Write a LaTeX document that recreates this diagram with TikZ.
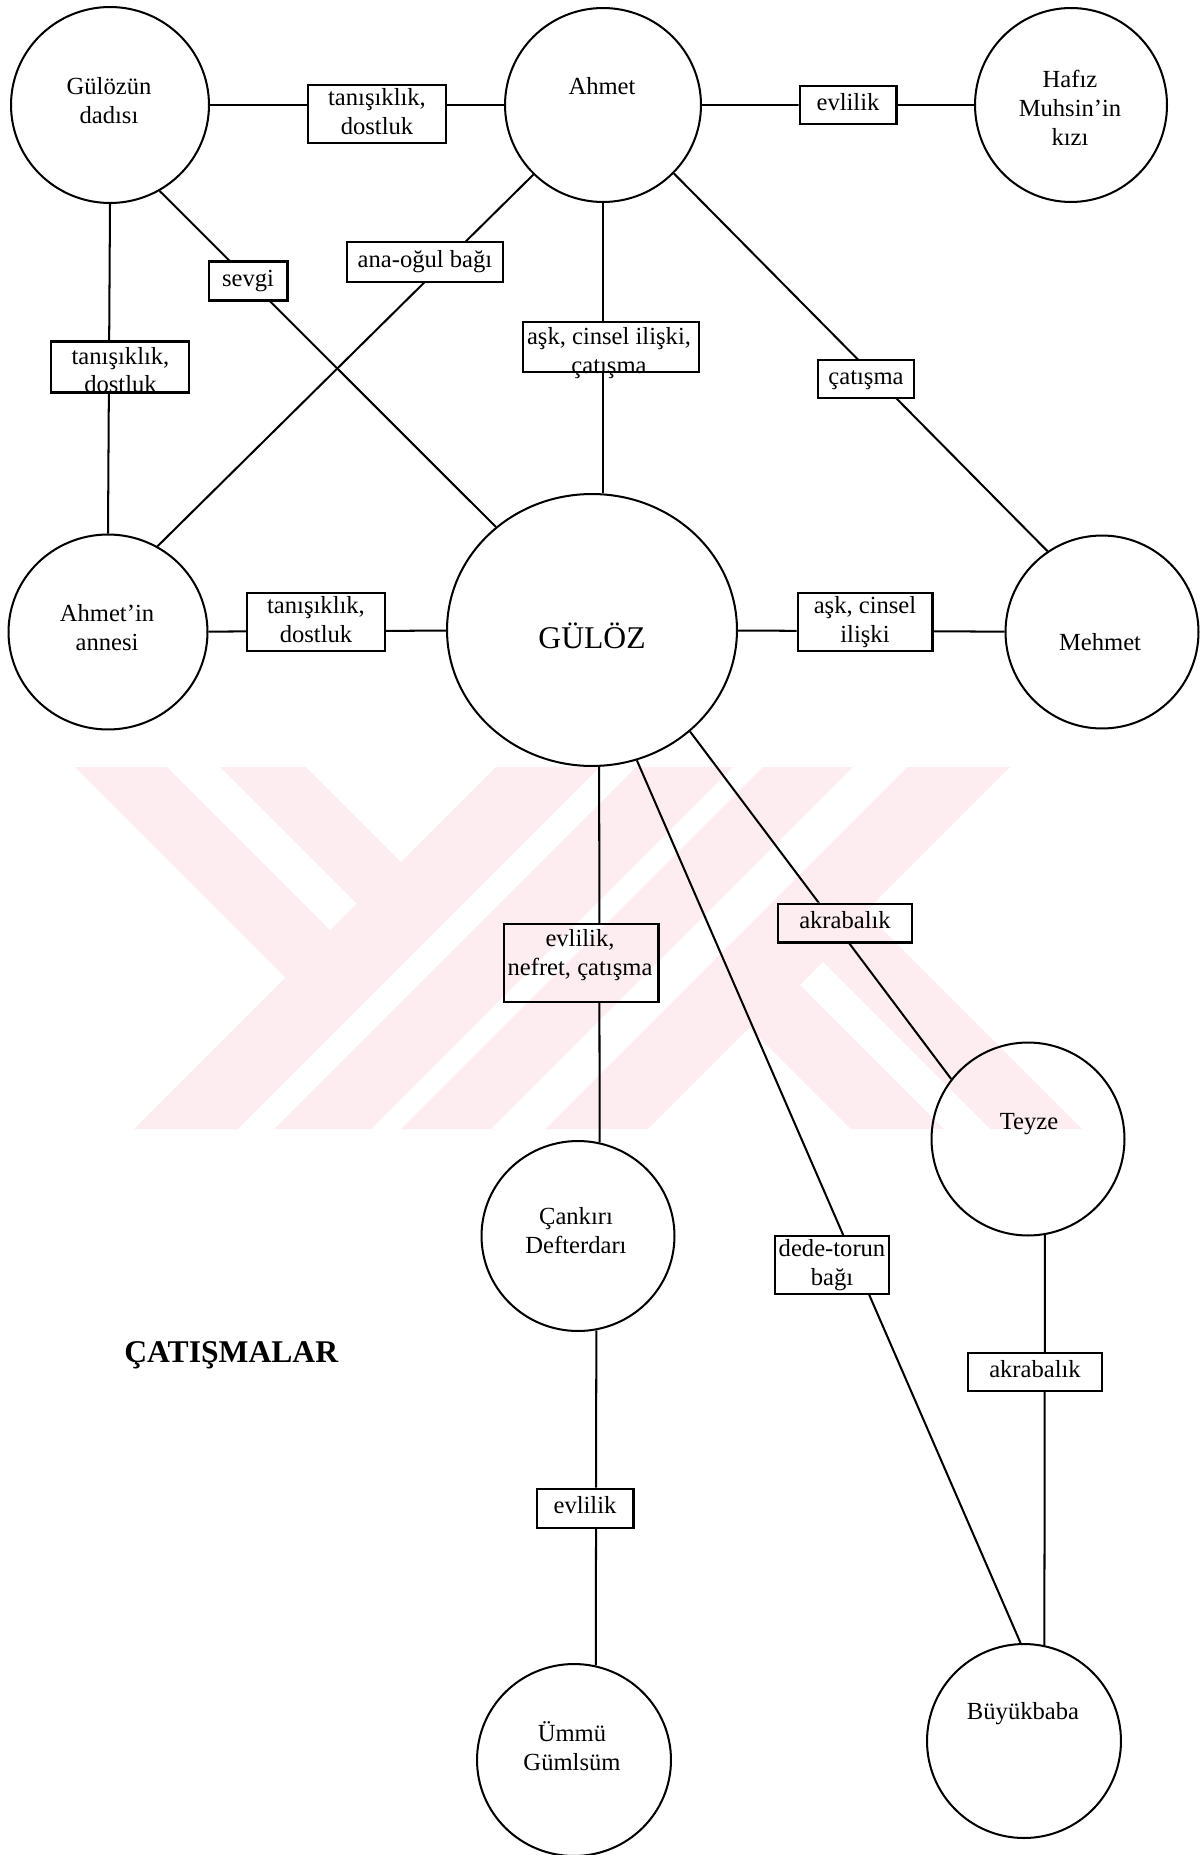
\documentclass[tikz,border=0pt]{standalone}
\usepackage{fontspec}
\setmainfont{Liberation Serif}
\usetikzlibrary{shapes.geometric}
\definecolor{wmpink}{RGB}{253,236,240}
\newcommand\relfont{\fontsize{14}{16.5}\selectfont}
\begin{document}
\begin{tikzpicture}[x=0.02cm, y=-0.02cm,
  persona/.style={draw, ellipse, line width=1.15pt, inner sep=0pt},
  relbox/.style={draw, rectangle, line width=1.15pt, inner sep=0pt, align=center, font=\relfont},
  plabel/.style={align=center, font=\relfont, inner sep=0pt},
  conn/.style={line width=1.15pt}]
\useasboundingbox (0,0) rectangle (1203,1855);
\fill[white] (0,0) rectangle (1203,1855);

% background emblem: a striped "Y" and "X"
\fill[wmpink] (75,767) -- (306,767) -- (401,862) -- (285.5,977.5) -- cycle;
\fill[wmpink] (496,767) -- (733,767) -- (371,1129) -- (134,1129) -- cycle;
\fill[wmpink] (763,767) -- (1010,767) -- (648,1129) -- (401,1129) -- cycle;
\fill[wmpink] (865,912) -- (1082,1129) -- (851,1129) -- (749.5,1027.5) -- cycle;
\fill[white] (167,767) -- (220,767) -- (356.5,903.5) -- (330,930) -- cycle;
\fill[white] (600,767) -- (636,767) -- (274,1129) -- (238,1129) -- cycle;
\fill[white] (853,767) -- (907,767) -- (545,1129) -- (491,1129) -- cycle;
\fill[white] (800,985) -- (823,962) -- (990,1129) -- (944,1129) -- cycle;

% people
\node[persona, minimum width=3.96cm, minimum height=3.92cm] (dadi) at (110,105) {};
\node[persona, minimum width=3.92cm, minimum height=3.88cm] (ahmet) at (603,105) {};
\node[persona, minimum width=3.84cm, minimum height=3.88cm] (hafiz) at (1071,105) {};
\node[persona, minimum width=3.98cm, minimum height=3.90cm] (annesi) at (108,632) {};
\node[persona, minimum width=5.80cm, minimum height=5.44cm] (guloz) at (592,630) {};
\node[persona, minimum width=3.86cm, minimum height=3.86cm] (mehmet) at (1102,632) {};
\node[persona, minimum width=3.86cm, minimum height=3.86cm] (teyze) at (1028,1139) {};
\node[persona, minimum width=3.86cm, minimum height=3.80cm] (cankiri) at (578,1236) {};
\node[persona, minimum width=3.88cm, minimum height=3.84cm] (ummu) at (574,1760) {};
\node[persona, minimum width=3.88cm, minimum height=3.88cm] (buyukbaba) at (1024,1741) {};

% names inside the circles
\node[plabel] (tdadi) at (109,103.2) {\strut Gülözün\\\strut dadısı};
\node[plabel] (tahmet) at (602,89.2) {\strut Ahmet};
\node[plabel] (thafiz) at (1070,110.7) {\strut Hafız\\\strut Muhsin’in\\\strut kızı};
\node[plabel] (tannesi) at (107,630) {\strut Ahmet’in\\\strut annesi};
\node[anchor=base, inner sep=0pt, font=\fontsize{18}{21}\selectfont] (tguloz) at (592,648) {GÜLÖZ};
\node[plabel] (tmehmet) at (1100,644.2) {\strut Mehmet};
\node[plabel] (tteyze) at (1029,1124) {\strut Teyze};
\node[plabel] (tcankiri) at (576,1233) {\strut Çankırı\\\strut Defterdarı};
\node[plabel] (tummu) at (572,1750) {\strut Ümmü\\\strut Gümlsüm};
\node[plabel] (tbuyukbaba) at (1023,1714) {\strut Büyükbaba};

% relation boxes
\node[relbox, minimum width=2.76cm, minimum height=1.16cm] (b1) at (377,114) {\strut tanışıklık,\\\strut dostluk};
\node[relbox, minimum width=1.94cm, minimum height=0.76cm] (b2) at (848,105) {\strut evlilik};
\node[relbox, minimum width=1.58cm, minimum height=0.78cm] (b3) at (248,281) {\strut sevgi};
\node[relbox, minimum width=3.12cm, minimum height=0.80cm] (b4) at (425,262) {\strut ana-oğul bağı};
\node[relbox, minimum width=2.76cm, minimum height=1.02cm] (b5) at (120,367) {};
\node[plabel] (t5) at (120.5,372.7) {\strut tanışıklık,\\\strut dostluk};
\node[relbox, minimum width=3.52cm, minimum height=1.00cm] (b6) at (611,347) {};
\node[plabel] (t6) at (609,353) {\strut aşk, cinsel ilişki,\\\strut çatışma};
\node[relbox, minimum width=1.92cm, minimum height=0.76cm] (b7) at (866,379) {\strut çatışma};
\node[relbox, minimum width=2.76cm, minimum height=1.16cm] (b8) at (316,622) {\strut tanışıklık,\\\strut dostluk};
\node[relbox, minimum width=2.70cm, minimum height=1.16cm] (b9) at (865,622) {\strut aşk, cinsel\\\strut ilişki};
\node[relbox, minimum width=3.10cm, minimum height=1.56cm] (b10) at (581,963) {};
\node[plabel] (t10) at (580,954.7) {\strut evlilik,\\\strut nefret, çatışma};
\node[relbox, minimum width=2.68cm, minimum height=0.78cm] (b11) at (845,923) {\strut akrabalık};
\node[relbox, minimum width=2.28cm, minimum height=1.16cm] (b12) at (832,1265) {\strut dede-torun\\\strut bağı};
\node[relbox, minimum width=2.68cm, minimum height=0.76cm] (b13) at (1035,1372) {\strut akrabalık};
\node[relbox, minimum width=1.94cm, minimum height=0.78cm] (b14) at (585,1508) {\strut evlilik};

% heading
\node[anchor=base west, inner sep=0pt, font=\fontsize{18}{21}\selectfont\bfseries] (heading) at (124,1362) {ÇATIŞMALAR};

% connectors, kept out of the boxes
\begin{scope}[even odd rule]
\clip (0,0) rectangle (1203,1855)
  (b1.south west) rectangle (b1.north east)
  (b2.south west) rectangle (b2.north east)
  (b3.south west) rectangle (b3.north east)
  (b4.south west) rectangle (b4.north east)
  (b5.south west) rectangle (b5.north east)
  (b6.south west) rectangle (b6.north east)
  (b7.south west) rectangle (b7.north east)
  (b8.south west) rectangle (b8.north east)
  (b9.south west) rectangle (b9.north east)
  (b10.south west) rectangle (b10.north east)
  (b11.south west) rectangle (b11.north east)
  (b12.south west) rectangle (b12.north east)
  (b13.south west) rectangle (b13.north east)
  (b14.south west) rectangle (b14.north east);
\draw[conn] (dadi) -- (ahmet);
\draw[conn] (ahmet) -- (hafiz);
\draw[conn] (dadi.south) -- (annesi.north);
\draw[conn] (dadi.-60) -- (guloz.133);
\draw[conn] (annesi.60) -- (ahmet.225);
\draw[conn] (ahmet.south) -- (ahmet.south |- guloz.north);
\draw[conn] (ahmet.-44) -- (mehmet.124);
\draw[conn] (annesi) -- (guloz);
\draw[conn] (guloz) -- (mehmet);
\draw[conn] (guloz.-87) -- (cankiri.77);
\draw[conn] (guloz.-71) -- (buyukbaba.92);
\draw[conn] (guloz.-46) -- (teyze.142);
\draw[conn] (teyze.-80) -- (buyukbaba.78);
\draw[conn] (cankiri.-79) -- (ummu.77);
\end{scope}
\end{tikzpicture}
\end{document}
